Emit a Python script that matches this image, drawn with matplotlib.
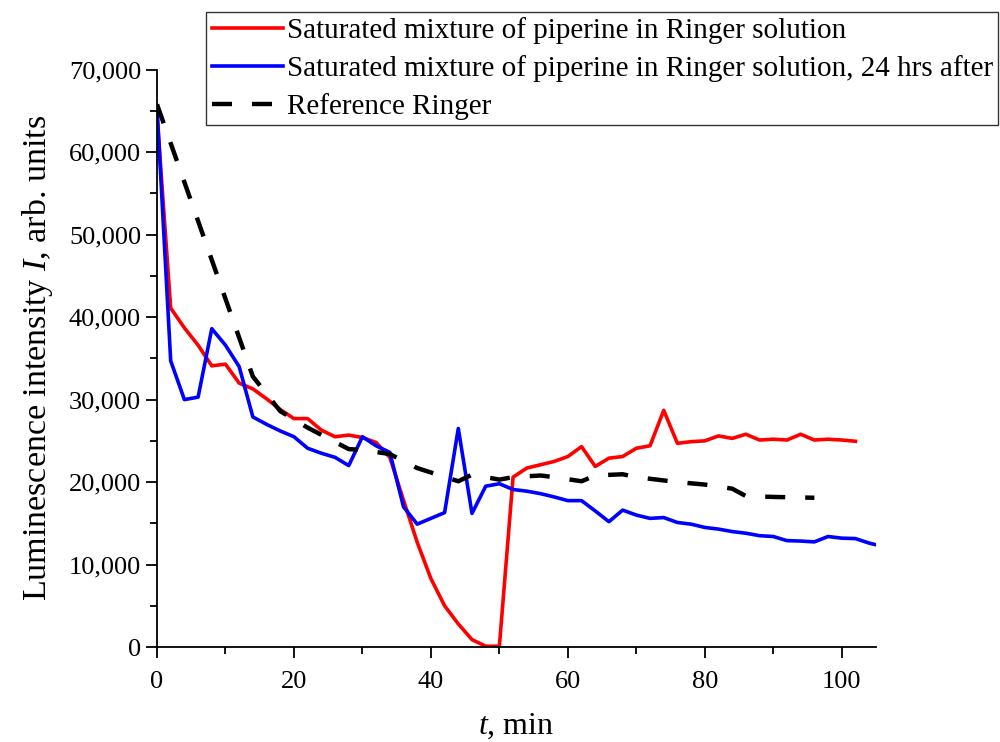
import matplotlib
matplotlib.use("Agg")
import matplotlib.pyplot as plt
from matplotlib.ticker import MultipleLocator, FuncFormatter

plt.rcParams["font.family"] = ["Liberation Serif", "DejaVu Serif"]
plt.rcParams["mathtext.fontset"] = "custom"
plt.rcParams["mathtext.rm"] = "Liberation Serif"
plt.rcParams["mathtext.it"] = "Liberation Serif:italic"

t_red = list(range(0, 104, 2))
red = [64500, 41100, 38700, 36600, 34100, 34300, 32000, 31300, 30100, 28800,
       27700, 27700, 26300, 25500, 25700, 25400, 24800, 23000, 17800, 12700,
       8300, 5000, 2800, 900, 100, 100, 20600, 21700, 22100, 22500,
       23100, 24300, 21900, 22900, 23100, 24100, 24400, 28700, 24700, 24900,
       25000, 25600, 25300, 25800, 25100, 25200, 25100, 25800, 25100, 25200,
       25100, 24950]

t_blue = list(range(0, 108, 2))
blue = [65500, 34700, 30000, 30300, 38600, 36600, 34000, 27900, 27000, 26200,
        25500, 24100, 23500, 23000, 22000, 25500, 24400, 23600, 17000, 14900,
        15600, 16300, 26500, 16200, 19500, 19800, 19100, 18900, 18600, 18200,
        17750, 17750, 16500, 15200, 16600, 16000, 15600, 15700, 15100, 14900,
        14500, 14300, 14000, 13800, 13500, 13400, 12900, 12850, 12750, 13400,
        13200, 13150, 12600, 12200]

t_ref = [0, 14, 18, 22, 28, 30, 34, 38, 44, 46, 50, 52, 56, 58, 62, 64, 68,
         70, 76, 80, 84, 86, 90, 96]
ref = [65800, 32800, 28600, 26600, 24000, 23900, 23400, 21700, 20100, 20900,
       20300, 20600, 20800, 20600, 20100, 20800, 20950, 20600, 20000, 19700,
       19200, 18300, 18200, 18100]

labels = ["Saturated mixture of piperine in Ringer solution",
          "Saturated mixture of piperine in Ringer solution, 24 hrs after",
          "Reference Ringer"]


def main():
    fig = plt.figure(figsize=(10, 7.42), dpi=100)
    ax = fig.add_axes([0.157, 0.128, 0.719, 0.778])

    ax.plot(t_red, red, color="#ff0000", lw=2.6, label=labels[0])
    ax.plot(t_blue, blue, color="#0000ff", lw=2.6, label=labels[1])
    ax.plot(t_ref, ref, color="black", lw=3.2, ls=(0, (4.5, 4.5)), label=labels[2])

    ax.set_xlim(0, 105)
    ax.set_ylim(0, 70000)
    ax.spines["top"].set_visible(False)
    ax.spines["right"].set_visible(False)
    for s in ("left", "bottom"):
        ax.spines[s].set_linewidth(1.3)

    ax.xaxis.set_major_locator(MultipleLocator(20))
    ax.xaxis.set_minor_locator(MultipleLocator(10))
    ax.yaxis.set_major_locator(MultipleLocator(10000))
    ax.yaxis.set_minor_locator(MultipleLocator(5000))
    ax.yaxis.set_major_formatter(FuncFormatter(lambda v, p: f"{int(v):,}"))
    ax.tick_params(which="major", direction="out", length=8, width=1.3,
                   labelsize=19)
    ax.tick_params(which="minor", direction="out", length=5, width=1.3)
    ax.tick_params(axis="x", pad=9)

    ax.set_xlabel("$t$, min", fontsize=23, labelpad=14)
    ax.set_ylabel("Luminescence intensity $I$, arb. units", fontsize=24.5,
                  labelpad=10)

    leg = ax.legend(loc="upper right", bbox_to_anchor=(0.998, 0.984),
                    bbox_transform=fig.transFigure, fontsize=21,
                    frameon=True, fancybox=False, borderaxespad=0,
                    handlelength=2.45, handletextpad=0.12, labelspacing=0.38,
                    borderpad=0.18)
    leg.get_frame().set_edgecolor("black")
    leg.get_frame().set_linewidth(1.0)

    fig.savefig("out.png", dpi=100)


if __name__ == "__main__":
    main()
